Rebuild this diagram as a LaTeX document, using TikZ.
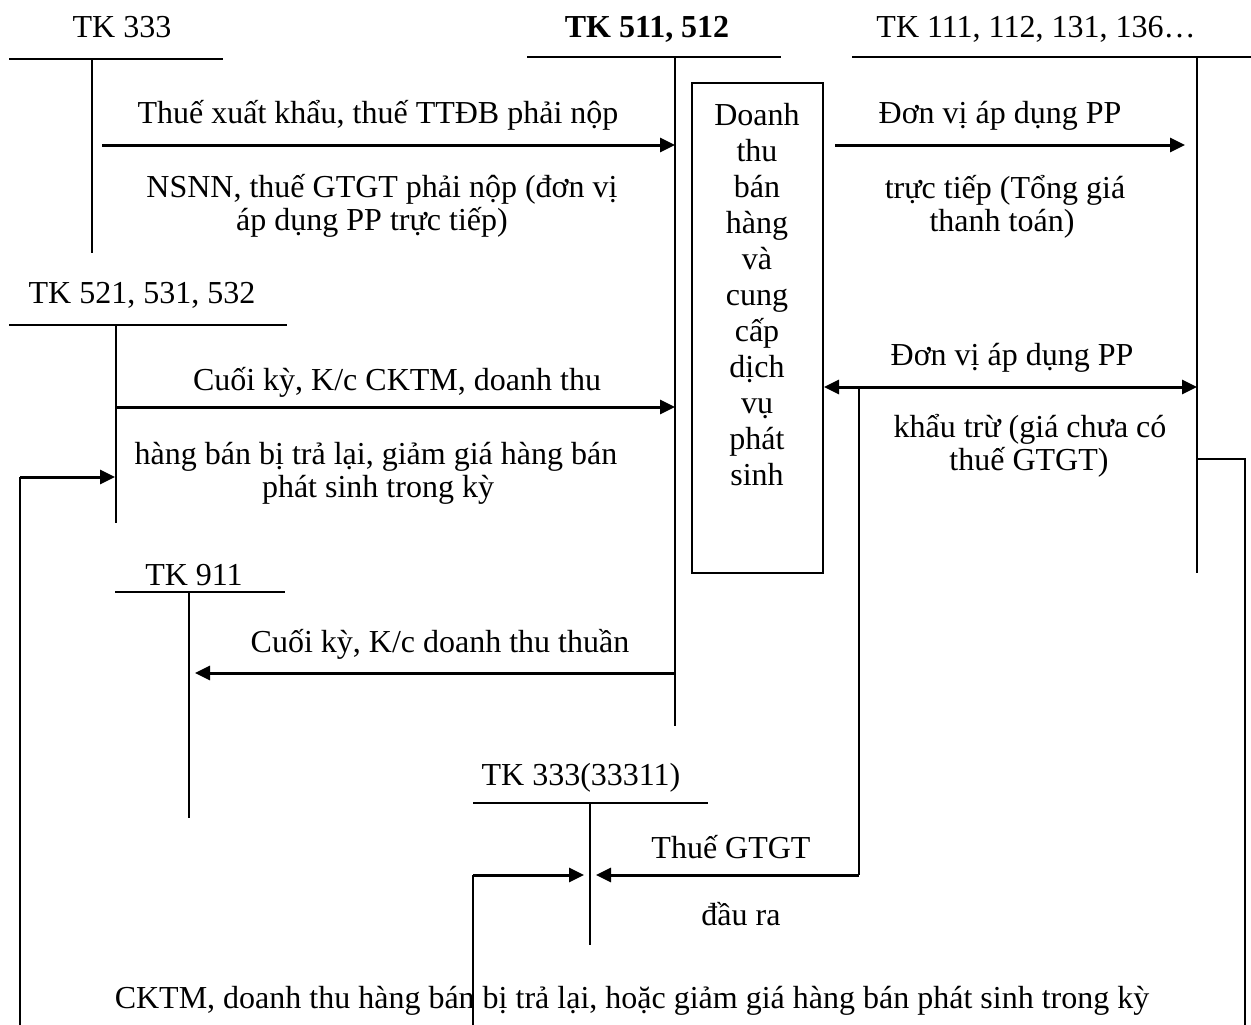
\documentclass[tikz,border=0pt]{standalone}
\usepackage{fontspec}
\setmainfont{Liberation Serif}
\usetikzlibrary{arrows.meta}
\begin{document}
\begin{tikzpicture}[x=1pt,y=-1pt,
  txt/.style={font=\fontsize{32}{36}\selectfont, inner sep=0pt, anchor=base},
  tl/.style={line width=2pt},
  cn/.style={line width=2pt},
  ar/.style={line width=3pt, -{Triangle[length=15pt,width=14pt]}},
  dar/.style={line width=3pt, {Triangle[length=15pt,width=14pt]}-{Triangle[length=15pt,width=14pt]}},
]
\useasboundingbox (0,0) rectangle (1251,1025);

% ---- account titles ----
\node[txt] (t333) at (122,38) {TK 333};
\node[txt, font=\fontsize{32}{36}\selectfont\bfseries] (t511) at (647,38) {TK 511, 512};
\node[txt] (t111) at (1036,38) {TK 111, 112, 131, 136…};
\node[txt] (t521) at (142,303) {TK 521, 531, 532};
\node[txt] (t911) at (194,585) {TK 911};
\node[txt] (t33311) at (581,785) {TK 333(33311)};

% ---- T-account lines ----
\coordinate (h333l) at (9,59);    \coordinate (h333r) at (223,59);
\coordinate (v333t) at (92,59);   \coordinate (v333b) at (92,253);
\coordinate (h511l) at (527,57);  \coordinate (h511r) at (781,57);
\coordinate (v511t) at (675,57);  \coordinate (v511b) at (675,726);
\coordinate (h111l) at (852,57);  \coordinate (h111r) at (1251,57);
\coordinate (v111t) at (1197,57); \coordinate (v111b) at (1197,573);
\coordinate (h521l) at (9,325);   \coordinate (h521r) at (287,325);
\coordinate (v521t) at (116,325); \coordinate (v521b) at (116,523);
\coordinate (h911l) at (115,592); \coordinate (h911r) at (285,592);
\coordinate (v911t) at (189,592); \coordinate (v911b) at (189,818);
\coordinate (h3l) at (473,803);   \coordinate (h3r) at (708,803);
\coordinate (v3t) at (590,803);   \coordinate (v3b) at (590,945);

\draw[tl] (h333l) -- (h333r);  \draw[tl] (v333t) -- (v333b);
\draw[tl] (h511l) -- (h511r);  \draw[tl] (v511t) -- (v511b);
\draw[tl] (h111l) -- (h111r);  \draw[tl] (v111t) -- (v111b);
\draw[tl] (h521l) -- (h521r);  \draw[tl] (v521t) -- (v521b);
\draw[tl] (h911l) -- (h911r);  \draw[tl] (v911t) -- (v911b);
\draw[tl] (h3l) -- (h3r);      \draw[tl] (v3t) -- (v3b);

% ---- central box ----
\node[draw, line width=2pt, minimum width=131pt, minimum height=490pt, inner sep=0pt] (box) at (757.5,328) {};
\foreach \w [count=\i from 0] in {Doanh,thu,bán,hàng,và,cung,cấp,dịch,vụ,phát,sinh}
  \node[txt] (bx\i) at (757,125+36*\i) {\w};

% ---- arrow end points ----
\coordinate (a1s) at (102,145);  \coordinate (a1e) at (675,145);
\coordinate (a2s) at (835,145);  \coordinate (a2e) at (1185,145);
\coordinate (a3s) at (116,407);  \coordinate (a3e) at (675,407);
\coordinate (a4s) at (675,673);  \coordinate (a4e) at (195,673);
\coordinate (dls) at (824,387);  \coordinate (dle) at (1197,387);
\coordinate (g0) at (859,387);   \coordinate (g1) at (859,875);  \coordinate (g2) at (596,875);
\coordinate (q0) at (473,1025);  \coordinate (q1) at (473,875);  \coordinate (q2) at (584,875);
\coordinate (r0) at (1197,459);  \coordinate (r1) at (1245,459); \coordinate (r2) at (1245,1025);
\coordinate (b0) at (20,1025);   \coordinate (b1) at (20,477);   \coordinate (b2) at (115,477);

\draw[ar] (a1s) -- (a1e);
\draw[ar] (a2s) -- (a2e);
\draw[ar] (a3s) -- (a3e);
\draw[ar] (a4s) -- (a4e);
\draw[dar] (dls) -- (dle);
\draw[cn] (g0) -- (g1);  \draw[ar] (g1) -- (g2);
\draw[cn] (q0) -- (q1);  \draw[ar] (q1) -- (q2);
\draw[cn] (r0) -- (r1) -- (r2);
\draw[cn] (b0) -- (b1);  \draw[ar] (b1) -- (b2);

% ---- labels ----
\node[txt] (l1)  at (378,124) {Thuế xuất khẩu, thuế TTĐB phải nộp};
\node[txt] (l2a) at (382,197) {NSNN, thuế GTGT phải nộp (đơn vị};
\node[txt] (l2b) at (372,230) {áp dụng PP trực tiếp)};
\node[txt] (rr1) at (1000,124) {Đơn vị áp dụng PP};
\node[txt] (rr2a) at (1005,198) {trực tiếp (Tổng giá};
\node[txt] (rr2b) at (1002,231) {thanh toán)};
\node[txt] (m1)  at (397,390) {Cuối kỳ, K/c CKTM, doanh thu};
\node[txt] (m2a) at (376,464) {hàng bán bị trả lại, giảm giá hàng bán};
\node[txt] (m2b) at (378,497) {phát sinh trong kỳ};
\node[txt] (rr3) at (1012,365) {Đơn vị áp dụng PP};
\node[txt] (rr4a) at (1030,437) {khẩu trừ (giá chưa có};
\node[txt] (rr4b) at (1029,470) {thuế GTGT)};
\node[txt] (k1)  at (440,652) {Cuối kỳ, K/c doanh thu thuần};
\node[txt] (gt1) at (731,858) {Thuế GTGT};
\node[txt] (gt2) at (741,925) {đầu ra};
\node[txt] (bt)  at (632,1008) {CKTM, doanh thu hàng bán bị trả lại, hoặc giảm giá hàng bán phát sinh trong kỳ};
\end{tikzpicture}
\end{document}
